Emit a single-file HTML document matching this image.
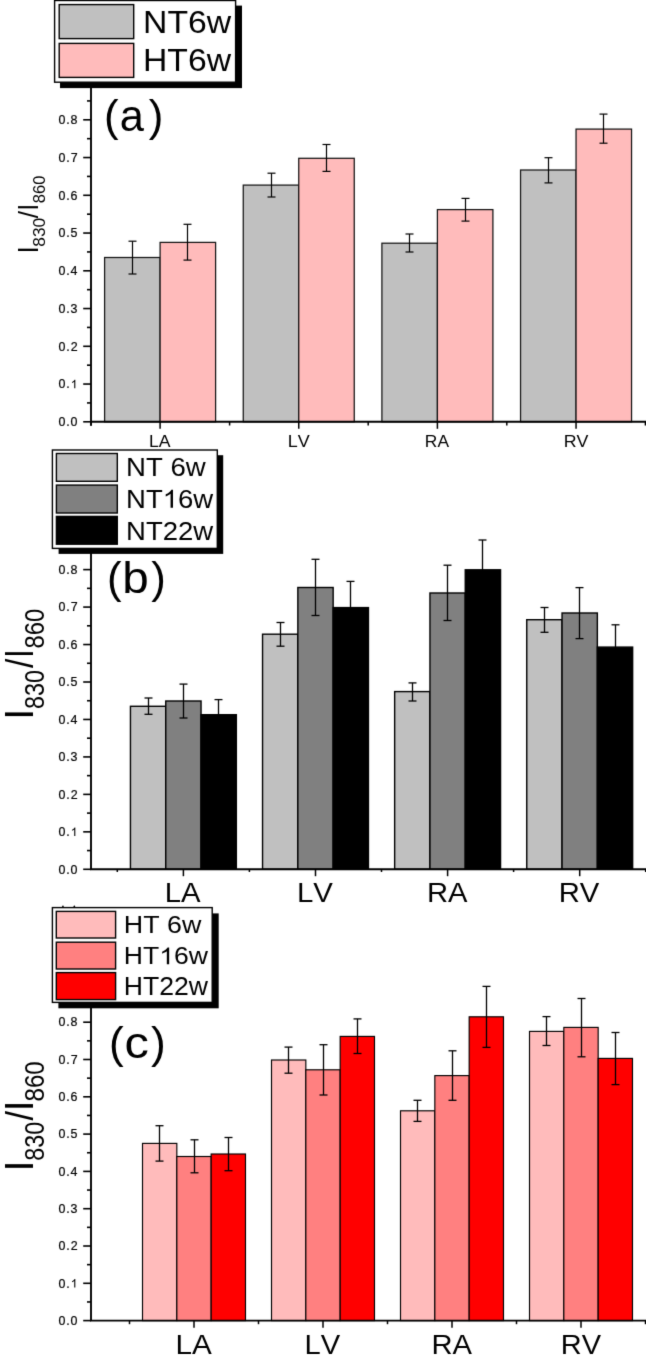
<!DOCTYPE html>
<html><head><meta charset="utf-8"><style>
html,body{margin:0;padding:0;background:#fff;}
svg{display:block;}
#w{will-change:transform;width:646px;height:1363px;overflow:hidden;}
text{font-family:"Liberation Sans",sans-serif;font-kerning:none;}
</style></head><body><div id="w">
<svg width="646" height="1363" viewBox="0 0 646 1363">
<defs><filter id="bl" x="0" y="0" width="646" height="1363" filterUnits="userSpaceOnUse" color-interpolation-filters="sRGB"><feConvolveMatrix order="3" kernelMatrix="0.01134 0.08382 0.01134 0.08382 0.61935 0.08382 0.01134 0.08382 0.01134" edgeMode="duplicate" preserveAlpha="true"/></filter></defs>
<g filter="url(#bl)">
<rect x="0" y="0" width="646" height="1363" fill="#fff"/>
<rect x="104.6" y="257.5" width="55.5" height="164.3" fill="#C0C0C0" stroke="#141414" stroke-width="1.25"/>
<rect x="160.1" y="242.4" width="55.5" height="179.4" fill="#FFBBBB" stroke="#141414" stroke-width="1.25"/>
<line x1="132.5" y1="241.2" x2="132.5" y2="274" stroke="#000" stroke-width="1.2"/>
<line x1="128.5" y1="241.2" x2="136.5" y2="241.2" stroke="#000" stroke-width="1.2"/>
<line x1="128.5" y1="274" x2="136.5" y2="274" stroke="#000" stroke-width="1.2"/>
<line x1="187.5" y1="224.3" x2="187.5" y2="260.1" stroke="#000" stroke-width="1.2"/>
<line x1="183.5" y1="224.3" x2="191.5" y2="224.3" stroke="#000" stroke-width="1.2"/>
<line x1="183.5" y1="260.1" x2="191.5" y2="260.1" stroke="#000" stroke-width="1.2"/>
<rect x="243.25" y="185.1" width="55.5" height="236.7" fill="#C0C0C0" stroke="#141414" stroke-width="1.25"/>
<rect x="298.75" y="158.3" width="55.5" height="263.5" fill="#FFBBBB" stroke="#141414" stroke-width="1.25"/>
<line x1="271.5" y1="173.2" x2="271.5" y2="197" stroke="#000" stroke-width="1.2"/>
<line x1="267.5" y1="173.2" x2="275.5" y2="173.2" stroke="#000" stroke-width="1.2"/>
<line x1="267.5" y1="197" x2="275.5" y2="197" stroke="#000" stroke-width="1.2"/>
<line x1="326.5" y1="144.5" x2="326.5" y2="171.4" stroke="#000" stroke-width="1.2"/>
<line x1="322.5" y1="144.5" x2="330.5" y2="144.5" stroke="#000" stroke-width="1.2"/>
<line x1="322.5" y1="171.4" x2="330.5" y2="171.4" stroke="#000" stroke-width="1.2"/>
<rect x="381.9" y="243.2" width="55.5" height="178.6" fill="#C0C0C0" stroke="#141414" stroke-width="1.25"/>
<rect x="437.4" y="209.6" width="55.5" height="212.2" fill="#FFBBBB" stroke="#141414" stroke-width="1.25"/>
<line x1="409.5" y1="234" x2="409.5" y2="252" stroke="#000" stroke-width="1.2"/>
<line x1="405.5" y1="234" x2="413.5" y2="234" stroke="#000" stroke-width="1.2"/>
<line x1="405.5" y1="252" x2="413.5" y2="252" stroke="#000" stroke-width="1.2"/>
<line x1="465.5" y1="198.4" x2="465.5" y2="221.1" stroke="#000" stroke-width="1.2"/>
<line x1="461.5" y1="198.4" x2="469.5" y2="198.4" stroke="#000" stroke-width="1.2"/>
<line x1="461.5" y1="221.1" x2="469.5" y2="221.1" stroke="#000" stroke-width="1.2"/>
<rect x="520.55" y="170" width="55.5" height="251.8" fill="#C0C0C0" stroke="#141414" stroke-width="1.25"/>
<rect x="576.05" y="129.1" width="55.5" height="292.7" fill="#FFBBBB" stroke="#141414" stroke-width="1.25"/>
<line x1="548.5" y1="157.7" x2="548.5" y2="182.9" stroke="#000" stroke-width="1.2"/>
<line x1="544.5" y1="157.7" x2="552.5" y2="157.7" stroke="#000" stroke-width="1.2"/>
<line x1="544.5" y1="182.9" x2="552.5" y2="182.9" stroke="#000" stroke-width="1.2"/>
<line x1="603.5" y1="114.1" x2="603.5" y2="143.2" stroke="#000" stroke-width="1.2"/>
<line x1="599.5" y1="114.1" x2="607.5" y2="114.1" stroke="#000" stroke-width="1.2"/>
<line x1="599.5" y1="143.2" x2="607.5" y2="143.2" stroke="#000" stroke-width="1.2"/>
<line x1="91" y1="80" x2="91" y2="425.7" stroke="#000" stroke-width="1.9"/>
<line x1="90" y1="421.8" x2="646" y2="421.8" stroke="#000" stroke-width="1.9"/>
<line x1="83.2" y1="421.8" x2="91" y2="421.8" stroke="#000" stroke-width="1.6"/>
<g transform="translate(58.514 426.079)" fill="#000" stroke="#000" stroke-width="0.2"><text font-size="12.429" letter-spacing="0.846">0.0</text></g>
<line x1="87" y1="402.925" x2="91" y2="402.925" stroke="#000" stroke-width="1.6"/>
<line x1="83.2" y1="384.05" x2="91" y2="384.05" stroke="#000" stroke-width="1.6"/>
<g transform="translate(58.514 388.329)" fill="#000" stroke="#000" stroke-width="0.2"><text font-size="12.429" letter-spacing="0.907">0. </text><path transform="translate(12.18 0) scale(0.00607 -0.00607)" d="M763 0H583V1098Q518 1038 412 979T222 890V1057Q373 1125 486 1221T646 1409H763V0Z"/></g>
<line x1="87" y1="365.175" x2="91" y2="365.175" stroke="#000" stroke-width="1.6"/>
<line x1="83.2" y1="346.3" x2="91" y2="346.3" stroke="#000" stroke-width="1.6"/>
<g transform="translate(58.514 350.579)" fill="#000" stroke="#000" stroke-width="0.2"><text font-size="12.429" letter-spacing="0.916">0.2</text></g>
<line x1="87" y1="327.425" x2="91" y2="327.425" stroke="#000" stroke-width="1.6"/>
<line x1="83.2" y1="308.55" x2="91" y2="308.55" stroke="#000" stroke-width="1.6"/>
<g transform="translate(58.514 312.829)" fill="#000" stroke="#000" stroke-width="0.2"><text font-size="12.429" letter-spacing="0.877">0.3</text></g>
<line x1="87" y1="289.675" x2="91" y2="289.675" stroke="#000" stroke-width="1.6"/>
<line x1="83.2" y1="270.8" x2="91" y2="270.8" stroke="#000" stroke-width="1.6"/>
<g transform="translate(58.514 275.079)" fill="#000" stroke="#000" stroke-width="0.2"><text font-size="12.429" letter-spacing="0.786">0.4</text></g>
<line x1="87" y1="251.925" x2="91" y2="251.925" stroke="#000" stroke-width="1.6"/>
<line x1="83.2" y1="233.05" x2="91" y2="233.05" stroke="#000" stroke-width="1.6"/>
<g transform="translate(58.514 237.329)" fill="#000" stroke="#000" stroke-width="0.2"><text font-size="12.429" letter-spacing="0.865">0.5</text></g>
<line x1="87" y1="214.175" x2="91" y2="214.175" stroke="#000" stroke-width="1.6"/>
<line x1="83.2" y1="195.3" x2="91" y2="195.3" stroke="#000" stroke-width="1.6"/>
<g transform="translate(58.514 199.579)" fill="#000" stroke="#000" stroke-width="0.2"><text font-size="12.429" letter-spacing="0.877">0.6</text></g>
<line x1="87" y1="176.425" x2="91" y2="176.425" stroke="#000" stroke-width="1.6"/>
<line x1="83.2" y1="157.55" x2="91" y2="157.55" stroke="#000" stroke-width="1.6"/>
<g transform="translate(58.514 161.829)" fill="#000" stroke="#000" stroke-width="0.2"><text font-size="12.429" letter-spacing="0.916">0.7</text></g>
<line x1="87" y1="138.675" x2="91" y2="138.675" stroke="#000" stroke-width="1.6"/>
<line x1="83.2" y1="119.8" x2="91" y2="119.8" stroke="#000" stroke-width="1.6"/>
<g transform="translate(58.514 124.079)" fill="#000" stroke="#000" stroke-width="0.2"><text font-size="12.429" letter-spacing="0.874">0.8</text></g>
<line x1="87" y1="100.925" x2="91" y2="100.925" stroke="#000" stroke-width="1.6"/>
<line x1="160.1" y1="421.8" x2="160.1" y2="428.8" stroke="#000" stroke-width="1.5"/>
<line x1="298.75" y1="421.8" x2="298.75" y2="428.8" stroke="#000" stroke-width="1.5"/>
<line x1="437.4" y1="421.8" x2="437.4" y2="428.8" stroke="#000" stroke-width="1.5"/>
<line x1="576.05" y1="421.8" x2="576.05" y2="428.8" stroke="#000" stroke-width="1.5"/>
<line x1="91" y1="421.8" x2="91" y2="425.5" stroke="#000" stroke-width="1.5"/>
<line x1="229.6" y1="421.8" x2="229.6" y2="425.5" stroke="#000" stroke-width="1.5"/>
<line x1="368.2" y1="421.8" x2="368.2" y2="425.5" stroke="#000" stroke-width="1.5"/>
<line x1="506.8" y1="421.8" x2="506.8" y2="425.5" stroke="#000" stroke-width="1.5"/>
<line x1="645.4" y1="421.8" x2="645.4" y2="425.5" stroke="#000" stroke-width="1.5"/>
<g transform="translate(149.053 446.8) scale(1.056 1)" fill="#000"><text font-size="16.715">LA</text></g>
<g transform="translate(287.728 446.8) scale(1.074 1)" fill="#000"><text font-size="16.715">LV</text></g>
<g transform="translate(424.873 446.8) scale(1.04 1)" fill="#000"><text font-size="16.715">RA</text></g>
<g transform="translate(563.739 446.8) scale(1.065 1)" fill="#000"><text font-size="16.715">RV</text></g>
<rect x="60" y="5.6" width="182" height="82.5" fill="#000"/>
<rect x="54.6" y="0.5" width="181" height="81.7" fill="#fff" stroke="#000" stroke-width="1.4"/>
<rect x="59.2" y="4.6" width="74.5" height="34" fill="#C0C0C0" stroke="#000" stroke-width="1.4"/>
<rect x="59.2" y="43.4" width="74.5" height="34" fill="#FFBBBB" stroke="#000" stroke-width="1.4"/>
<g transform="translate(143.033 32.887) scale(1.052 1)" fill="#000"><text font-size="32.062">NT6w</text></g>
<g transform="translate(143.033 71.086) scale(1.047 1)" fill="#000"><text font-size="32.203">HT6w</text></g>
<text transform="translate(119.756 131.011) scale(0.989 1)" font-size="43.901">a</text>
<text x="104.078" y="131.011" font-size="43.901">(</text>
<text x="148.703" y="131.011" font-size="43.901">)</text>
<text transform="translate(37.9 253.176) rotate(-90) scale(0.857 1)" font-size="28.78" fill="#000">I</text>
<text transform="translate(44.632 246.654) rotate(-90) scale(1.006 1)" font-size="17.231" fill="#000">830</text>
<text transform="translate(38.222 218.2) rotate(-90) scale(0.911 1)" font-size="28.46" fill="#000">/</text>
<text transform="translate(37.9 210.377) rotate(-90) scale(0.82 1)" font-size="28.78" fill="#000">I</text>
<text transform="translate(44.632 203.221) rotate(-90) scale(0.962 1)" font-size="17.231" fill="#000">860</text>
<rect x="130.45" y="706.3" width="35.3" height="163" fill="#C0C0C0" stroke="#000" stroke-width="1.4"/>
<rect x="165.75" y="701" width="35.3" height="168.3" fill="#808080" stroke="#000" stroke-width="1.4"/>
<rect x="201.05" y="714.7" width="35.3" height="154.6" fill="#000000" stroke="#000" stroke-width="1.4"/>
<line x1="148.5" y1="698" x2="148.5" y2="714.3" stroke="#000" stroke-width="1.3"/>
<line x1="144.5" y1="698" x2="152.5" y2="698" stroke="#000" stroke-width="1.3"/>
<line x1="144.5" y1="714.3" x2="152.5" y2="714.3" stroke="#000" stroke-width="1.3"/>
<line x1="183.5" y1="684.1" x2="183.5" y2="718" stroke="#000" stroke-width="1.3"/>
<line x1="179.5" y1="684.1" x2="187.5" y2="684.1" stroke="#000" stroke-width="1.3"/>
<line x1="179.5" y1="718" x2="187.5" y2="718" stroke="#000" stroke-width="1.3"/>
<line x1="218.5" y1="699.6" x2="218.5" y2="729.8" stroke="#000" stroke-width="1.3"/>
<line x1="214.5" y1="699.6" x2="222.5" y2="699.6" stroke="#000" stroke-width="1.3"/>
<line x1="214.5" y1="729.8" x2="222.5" y2="729.8" stroke="#000" stroke-width="1.3"/>
<rect x="262.55" y="634.2" width="35.3" height="235.1" fill="#C0C0C0" stroke="#000" stroke-width="1.4"/>
<rect x="297.85" y="587.5" width="35.3" height="281.8" fill="#808080" stroke="#000" stroke-width="1.4"/>
<rect x="333.15" y="607.6" width="35.3" height="261.7" fill="#000000" stroke="#000" stroke-width="1.4"/>
<line x1="280.5" y1="622.5" x2="280.5" y2="646.2" stroke="#000" stroke-width="1.3"/>
<line x1="276.5" y1="622.5" x2="284.5" y2="622.5" stroke="#000" stroke-width="1.3"/>
<line x1="276.5" y1="646.2" x2="284.5" y2="646.2" stroke="#000" stroke-width="1.3"/>
<line x1="315.5" y1="559.3" x2="315.5" y2="615.5" stroke="#000" stroke-width="1.3"/>
<line x1="311.5" y1="559.3" x2="319.5" y2="559.3" stroke="#000" stroke-width="1.3"/>
<line x1="311.5" y1="615.5" x2="319.5" y2="615.5" stroke="#000" stroke-width="1.3"/>
<line x1="350.5" y1="581.4" x2="350.5" y2="633.8" stroke="#000" stroke-width="1.3"/>
<line x1="346.5" y1="581.4" x2="354.5" y2="581.4" stroke="#000" stroke-width="1.3"/>
<line x1="346.5" y1="633.8" x2="354.5" y2="633.8" stroke="#000" stroke-width="1.3"/>
<rect x="394.65" y="691.6" width="35.3" height="177.7" fill="#C0C0C0" stroke="#000" stroke-width="1.4"/>
<rect x="429.95" y="593" width="35.3" height="276.3" fill="#808080" stroke="#000" stroke-width="1.4"/>
<rect x="465.25" y="569.8" width="35.3" height="299.5" fill="#000000" stroke="#000" stroke-width="1.4"/>
<line x1="412.5" y1="682.9" x2="412.5" y2="701" stroke="#000" stroke-width="1.3"/>
<line x1="408.5" y1="682.9" x2="416.5" y2="682.9" stroke="#000" stroke-width="1.3"/>
<line x1="408.5" y1="701" x2="416.5" y2="701" stroke="#000" stroke-width="1.3"/>
<line x1="447.5" y1="565.2" x2="447.5" y2="620.5" stroke="#000" stroke-width="1.3"/>
<line x1="443.5" y1="565.2" x2="451.5" y2="565.2" stroke="#000" stroke-width="1.3"/>
<line x1="443.5" y1="620.5" x2="451.5" y2="620.5" stroke="#000" stroke-width="1.3"/>
<line x1="482.5" y1="540" x2="482.5" y2="599.6" stroke="#000" stroke-width="1.3"/>
<line x1="478.5" y1="540" x2="486.5" y2="540" stroke="#000" stroke-width="1.3"/>
<line x1="478.5" y1="599.6" x2="486.5" y2="599.6" stroke="#000" stroke-width="1.3"/>
<rect x="526.75" y="619.7" width="35.3" height="249.6" fill="#C0C0C0" stroke="#000" stroke-width="1.4"/>
<rect x="562.05" y="613" width="35.3" height="256.3" fill="#808080" stroke="#000" stroke-width="1.4"/>
<rect x="597.35" y="647.1" width="35.3" height="222.2" fill="#000000" stroke="#000" stroke-width="1.4"/>
<line x1="544.5" y1="607.5" x2="544.5" y2="632.3" stroke="#000" stroke-width="1.3"/>
<line x1="540.5" y1="607.5" x2="548.5" y2="607.5" stroke="#000" stroke-width="1.3"/>
<line x1="540.5" y1="632.3" x2="548.5" y2="632.3" stroke="#000" stroke-width="1.3"/>
<line x1="579.5" y1="587.6" x2="579.5" y2="638.6" stroke="#000" stroke-width="1.3"/>
<line x1="575.5" y1="587.6" x2="583.5" y2="587.6" stroke="#000" stroke-width="1.3"/>
<line x1="575.5" y1="638.6" x2="583.5" y2="638.6" stroke="#000" stroke-width="1.3"/>
<line x1="615.5" y1="624.8" x2="615.5" y2="669.4" stroke="#000" stroke-width="1.3"/>
<line x1="611.5" y1="624.8" x2="619.5" y2="624.8" stroke="#000" stroke-width="1.3"/>
<line x1="611.5" y1="669.4" x2="619.5" y2="669.4" stroke="#000" stroke-width="1.3"/>
<line x1="91" y1="545" x2="91" y2="869.3" stroke="#000" stroke-width="1.9"/>
<line x1="90" y1="869.3" x2="646" y2="869.3" stroke="#000" stroke-width="1.9"/>
<line x1="83.2" y1="869.3" x2="91" y2="869.3" stroke="#000" stroke-width="1.6"/>
<g transform="translate(58.514 873.579)" fill="#000" stroke="#000" stroke-width="0.2"><text font-size="12.429" letter-spacing="0.846">0.0</text></g>
<line x1="87" y1="850.57" x2="91" y2="850.57" stroke="#000" stroke-width="1.6"/>
<line x1="83.2" y1="831.84" x2="91" y2="831.84" stroke="#000" stroke-width="1.6"/>
<g transform="translate(58.514 836.119)" fill="#000" stroke="#000" stroke-width="0.2"><text font-size="12.429" letter-spacing="0.907">0. </text><path transform="translate(12.18 0) scale(0.00607 -0.00607)" d="M763 0H583V1098Q518 1038 412 979T222 890V1057Q373 1125 486 1221T646 1409H763V0Z"/></g>
<line x1="87" y1="813.11" x2="91" y2="813.11" stroke="#000" stroke-width="1.6"/>
<line x1="83.2" y1="794.38" x2="91" y2="794.38" stroke="#000" stroke-width="1.6"/>
<g transform="translate(58.514 798.659)" fill="#000" stroke="#000" stroke-width="0.2"><text font-size="12.429" letter-spacing="0.916">0.2</text></g>
<line x1="87" y1="775.65" x2="91" y2="775.65" stroke="#000" stroke-width="1.6"/>
<line x1="83.2" y1="756.92" x2="91" y2="756.92" stroke="#000" stroke-width="1.6"/>
<g transform="translate(58.514 761.199)" fill="#000" stroke="#000" stroke-width="0.2"><text font-size="12.429" letter-spacing="0.877">0.3</text></g>
<line x1="87" y1="738.19" x2="91" y2="738.19" stroke="#000" stroke-width="1.6"/>
<line x1="83.2" y1="719.46" x2="91" y2="719.46" stroke="#000" stroke-width="1.6"/>
<g transform="translate(58.514 723.739)" fill="#000" stroke="#000" stroke-width="0.2"><text font-size="12.429" letter-spacing="0.786">0.4</text></g>
<line x1="87" y1="700.73" x2="91" y2="700.73" stroke="#000" stroke-width="1.6"/>
<line x1="83.2" y1="682" x2="91" y2="682" stroke="#000" stroke-width="1.6"/>
<g transform="translate(58.514 686.279)" fill="#000" stroke="#000" stroke-width="0.2"><text font-size="12.429" letter-spacing="0.865">0.5</text></g>
<line x1="87" y1="663.27" x2="91" y2="663.27" stroke="#000" stroke-width="1.6"/>
<line x1="83.2" y1="644.54" x2="91" y2="644.54" stroke="#000" stroke-width="1.6"/>
<g transform="translate(58.514 648.819)" fill="#000" stroke="#000" stroke-width="0.2"><text font-size="12.429" letter-spacing="0.877">0.6</text></g>
<line x1="87" y1="625.81" x2="91" y2="625.81" stroke="#000" stroke-width="1.6"/>
<line x1="83.2" y1="607.08" x2="91" y2="607.08" stroke="#000" stroke-width="1.6"/>
<g transform="translate(58.514 611.359)" fill="#000" stroke="#000" stroke-width="0.2"><text font-size="12.429" letter-spacing="0.916">0.7</text></g>
<line x1="87" y1="588.35" x2="91" y2="588.35" stroke="#000" stroke-width="1.6"/>
<line x1="83.2" y1="569.62" x2="91" y2="569.62" stroke="#000" stroke-width="1.6"/>
<g transform="translate(58.514 573.899)" fill="#000" stroke="#000" stroke-width="0.2"><text font-size="12.429" letter-spacing="0.874">0.8</text></g>
<line x1="87" y1="550.89" x2="91" y2="550.89" stroke="#000" stroke-width="1.6"/>
<line x1="183.4" y1="869.3" x2="183.4" y2="876.2" stroke="#000" stroke-width="1.5"/>
<line x1="315.5" y1="869.3" x2="315.5" y2="876.2" stroke="#000" stroke-width="1.5"/>
<line x1="447.6" y1="869.3" x2="447.6" y2="876.2" stroke="#000" stroke-width="1.5"/>
<line x1="579.7" y1="869.3" x2="579.7" y2="876.2" stroke="#000" stroke-width="1.5"/>
<line x1="117.3" y1="869.3" x2="117.3" y2="872" stroke="#000" stroke-width="1.5"/>
<line x1="249.4" y1="869.3" x2="249.4" y2="872" stroke="#000" stroke-width="1.5"/>
<line x1="381.5" y1="869.3" x2="381.5" y2="872" stroke="#000" stroke-width="1.5"/>
<line x1="513.6" y1="869.3" x2="513.6" y2="872" stroke="#000" stroke-width="1.5"/>
<line x1="645.7" y1="869.3" x2="645.7" y2="872" stroke="#000" stroke-width="1.5"/>
<g transform="translate(164.795 902.1) scale(1.067 1)" fill="#000"><text font-size="27.471">LA</text></g>
<g transform="translate(296.89 902.1) scale(1.07 1)" fill="#000"><text font-size="27.471">LV</text></g>
<g transform="translate(426.905 902.1) scale(1.063 1)" fill="#000"><text font-size="27.471">RA</text></g>
<g transform="translate(558.701 902.1) scale(1.065 1)" fill="#000"><text font-size="27.471">RV</text></g>
<rect x="58.6" y="455.2" width="164.6" height="98.7" fill="#000"/>
<rect x="52.4" y="450" width="164.9" height="98.4" fill="#fff" stroke="#000" stroke-width="1.4"/>
<rect x="56.4" y="453.5" width="60.9" height="27.8" fill="#C0C0C0" stroke="#000" stroke-width="1.4"/>
<rect x="56.4" y="485.1" width="60.9" height="27.9" fill="#808080" stroke="#000" stroke-width="1.4"/>
<rect x="56.4" y="516.4" width="60.9" height="27.8" fill="#000000" stroke="#000" stroke-width="1.4"/>
<g transform="translate(126.034 476.343) scale(1.051 1)" fill="#000"><text font-size="26.271">NT 6w</text></g>
<g transform="translate(126.042 507.746) scale(1.059 1)" fill="#000"><text font-size="25.988">NT 6w</text><path transform="translate(34.643 0) scale(0.01269 -0.01269)" d="M763 0H583V1098Q518 1038 412 979T222 890V1057Q373 1125 486 1221T646 1409H763V0Z"/></g>
<g transform="translate(126.042 540) scale(1.062 1)" fill="#000"><text font-size="25.922">NT22w</text></g>
<text transform="translate(122.233 592.933) scale(1.087 1)" font-size="43.794">b</text>
<text x="106.884" y="592.933" font-size="43.794">(</text>
<text x="151.232" y="592.933" font-size="43.794">)</text>
<text transform="translate(33 719.661) rotate(-90) scale(0.985 1)" font-size="40.262" fill="#000">I</text>
<text transform="translate(44.035 708.914) rotate(-90) scale(0.86 1)" font-size="27.118" fill="#000">830</text>
<text transform="translate(33.414 668) rotate(-90) scale(0.848 1)" font-size="39.489" fill="#000">/</text>
<text transform="translate(33 657.671) rotate(-90) scale(0.746 1)" font-size="40.262" fill="#000">I</text>
<text transform="translate(44.035 648.533) rotate(-90) scale(0.877 1)" font-size="27.118" fill="#000">860</text>
<rect x="142.505" y="1143.4" width="34.33" height="177.2" fill="#FFBBBB" stroke="#000" stroke-width="1.15"/>
<rect x="176.835" y="1156.5" width="34.33" height="164.1" fill="#FF8080" stroke="#000" stroke-width="1.15"/>
<rect x="211.165" y="1154" width="34.33" height="166.6" fill="#FF0000" stroke="#000" stroke-width="1.15"/>
<line x1="159.5" y1="1125.7" x2="159.5" y2="1161.1" stroke="#000" stroke-width="1.3"/>
<line x1="155.5" y1="1125.7" x2="163.5" y2="1125.7" stroke="#000" stroke-width="1.3"/>
<line x1="155.5" y1="1161.1" x2="163.5" y2="1161.1" stroke="#000" stroke-width="1.3"/>
<line x1="194.5" y1="1139.8" x2="194.5" y2="1172.8" stroke="#000" stroke-width="1.3"/>
<line x1="190.5" y1="1139.8" x2="198.5" y2="1139.8" stroke="#000" stroke-width="1.3"/>
<line x1="190.5" y1="1172.8" x2="198.5" y2="1172.8" stroke="#000" stroke-width="1.3"/>
<line x1="228.5" y1="1137.5" x2="228.5" y2="1170.7" stroke="#000" stroke-width="1.3"/>
<line x1="224.5" y1="1137.5" x2="232.5" y2="1137.5" stroke="#000" stroke-width="1.3"/>
<line x1="224.5" y1="1170.7" x2="232.5" y2="1170.7" stroke="#000" stroke-width="1.3"/>
<rect x="271.505" y="1060" width="34.33" height="260.6" fill="#FFBBBB" stroke="#000" stroke-width="1.15"/>
<rect x="305.835" y="1069.8" width="34.33" height="250.8" fill="#FF8080" stroke="#000" stroke-width="1.15"/>
<rect x="340.165" y="1036.4" width="34.33" height="284.2" fill="#FF0000" stroke="#000" stroke-width="1.15"/>
<line x1="288.5" y1="1047.1" x2="288.5" y2="1073.2" stroke="#000" stroke-width="1.3"/>
<line x1="284.5" y1="1047.1" x2="292.5" y2="1047.1" stroke="#000" stroke-width="1.3"/>
<line x1="284.5" y1="1073.2" x2="292.5" y2="1073.2" stroke="#000" stroke-width="1.3"/>
<line x1="323.5" y1="1044.7" x2="323.5" y2="1095" stroke="#000" stroke-width="1.3"/>
<line x1="319.5" y1="1044.7" x2="327.5" y2="1044.7" stroke="#000" stroke-width="1.3"/>
<line x1="319.5" y1="1095" x2="327.5" y2="1095" stroke="#000" stroke-width="1.3"/>
<line x1="357.5" y1="1018.9" x2="357.5" y2="1053.5" stroke="#000" stroke-width="1.3"/>
<line x1="353.5" y1="1018.9" x2="361.5" y2="1018.9" stroke="#000" stroke-width="1.3"/>
<line x1="353.5" y1="1053.5" x2="361.5" y2="1053.5" stroke="#000" stroke-width="1.3"/>
<rect x="400.505" y="1110.8" width="34.33" height="209.8" fill="#FFBBBB" stroke="#000" stroke-width="1.15"/>
<rect x="434.835" y="1075.6" width="34.33" height="245" fill="#FF8080" stroke="#000" stroke-width="1.15"/>
<rect x="469.165" y="1016.8" width="34.33" height="303.8" fill="#FF0000" stroke="#000" stroke-width="1.15"/>
<line x1="417.5" y1="1100.3" x2="417.5" y2="1121.4" stroke="#000" stroke-width="1.3"/>
<line x1="413.5" y1="1100.3" x2="421.5" y2="1100.3" stroke="#000" stroke-width="1.3"/>
<line x1="413.5" y1="1121.4" x2="421.5" y2="1121.4" stroke="#000" stroke-width="1.3"/>
<line x1="452.5" y1="1050.8" x2="452.5" y2="1100.3" stroke="#000" stroke-width="1.3"/>
<line x1="448.5" y1="1050.8" x2="456.5" y2="1050.8" stroke="#000" stroke-width="1.3"/>
<line x1="448.5" y1="1100.3" x2="456.5" y2="1100.3" stroke="#000" stroke-width="1.3"/>
<line x1="486.5" y1="986.4" x2="486.5" y2="1047.4" stroke="#000" stroke-width="1.3"/>
<line x1="482.5" y1="986.4" x2="490.5" y2="986.4" stroke="#000" stroke-width="1.3"/>
<line x1="482.5" y1="1047.4" x2="490.5" y2="1047.4" stroke="#000" stroke-width="1.3"/>
<rect x="529.505" y="1031.4" width="34.33" height="289.2" fill="#FFBBBB" stroke="#000" stroke-width="1.15"/>
<rect x="563.835" y="1027.4" width="34.33" height="293.2" fill="#FF8080" stroke="#000" stroke-width="1.15"/>
<rect x="598.165" y="1058.4" width="34.33" height="262.2" fill="#FF0000" stroke="#000" stroke-width="1.15"/>
<line x1="546.5" y1="1016.6" x2="546.5" y2="1045.5" stroke="#000" stroke-width="1.3"/>
<line x1="542.5" y1="1016.6" x2="550.5" y2="1016.6" stroke="#000" stroke-width="1.3"/>
<line x1="542.5" y1="1045.5" x2="550.5" y2="1045.5" stroke="#000" stroke-width="1.3"/>
<line x1="581.5" y1="998.5" x2="581.5" y2="1056.8" stroke="#000" stroke-width="1.3"/>
<line x1="577.5" y1="998.5" x2="585.5" y2="998.5" stroke="#000" stroke-width="1.3"/>
<line x1="577.5" y1="1056.8" x2="585.5" y2="1056.8" stroke="#000" stroke-width="1.3"/>
<line x1="615.5" y1="1032.5" x2="615.5" y2="1084.6" stroke="#000" stroke-width="1.3"/>
<line x1="611.5" y1="1032.5" x2="619.5" y2="1032.5" stroke="#000" stroke-width="1.3"/>
<line x1="611.5" y1="1084.6" x2="619.5" y2="1084.6" stroke="#000" stroke-width="1.3"/>
<line x1="91" y1="1000" x2="91" y2="1320.6" stroke="#000" stroke-width="1.9"/>
<line x1="90" y1="1320.6" x2="646" y2="1320.6" stroke="#000" stroke-width="1.9"/>
<line x1="83.2" y1="1320.6" x2="91" y2="1320.6" stroke="#000" stroke-width="1.6"/>
<g transform="translate(58.514 1324.879)" fill="#000" stroke="#000" stroke-width="0.2"><text font-size="12.429" letter-spacing="0.846">0.0</text></g>
<line x1="87" y1="1301.95" x2="91" y2="1301.95" stroke="#000" stroke-width="1.6"/>
<line x1="83.2" y1="1283.3" x2="91" y2="1283.3" stroke="#000" stroke-width="1.6"/>
<g transform="translate(58.514 1287.579)" fill="#000" stroke="#000" stroke-width="0.2"><text font-size="12.429" letter-spacing="0.907">0. </text><path transform="translate(12.18 0) scale(0.00607 -0.00607)" d="M763 0H583V1098Q518 1038 412 979T222 890V1057Q373 1125 486 1221T646 1409H763V0Z"/></g>
<line x1="87" y1="1264.65" x2="91" y2="1264.65" stroke="#000" stroke-width="1.6"/>
<line x1="83.2" y1="1246" x2="91" y2="1246" stroke="#000" stroke-width="1.6"/>
<g transform="translate(58.514 1250.279)" fill="#000" stroke="#000" stroke-width="0.2"><text font-size="12.429" letter-spacing="0.916">0.2</text></g>
<line x1="87" y1="1227.35" x2="91" y2="1227.35" stroke="#000" stroke-width="1.6"/>
<line x1="83.2" y1="1208.7" x2="91" y2="1208.7" stroke="#000" stroke-width="1.6"/>
<g transform="translate(58.514 1212.979)" fill="#000" stroke="#000" stroke-width="0.2"><text font-size="12.429" letter-spacing="0.877">0.3</text></g>
<line x1="87" y1="1190.05" x2="91" y2="1190.05" stroke="#000" stroke-width="1.6"/>
<line x1="83.2" y1="1171.4" x2="91" y2="1171.4" stroke="#000" stroke-width="1.6"/>
<g transform="translate(58.514 1175.679)" fill="#000" stroke="#000" stroke-width="0.2"><text font-size="12.429" letter-spacing="0.786">0.4</text></g>
<line x1="87" y1="1152.75" x2="91" y2="1152.75" stroke="#000" stroke-width="1.6"/>
<line x1="83.2" y1="1134.1" x2="91" y2="1134.1" stroke="#000" stroke-width="1.6"/>
<g transform="translate(58.514 1138.379)" fill="#000" stroke="#000" stroke-width="0.2"><text font-size="12.429" letter-spacing="0.865">0.5</text></g>
<line x1="87" y1="1115.45" x2="91" y2="1115.45" stroke="#000" stroke-width="1.6"/>
<line x1="83.2" y1="1096.8" x2="91" y2="1096.8" stroke="#000" stroke-width="1.6"/>
<g transform="translate(58.514 1101.079)" fill="#000" stroke="#000" stroke-width="0.2"><text font-size="12.429" letter-spacing="0.877">0.6</text></g>
<line x1="87" y1="1078.15" x2="91" y2="1078.15" stroke="#000" stroke-width="1.6"/>
<line x1="83.2" y1="1059.5" x2="91" y2="1059.5" stroke="#000" stroke-width="1.6"/>
<g transform="translate(58.514 1063.779)" fill="#000" stroke="#000" stroke-width="0.2"><text font-size="12.429" letter-spacing="0.916">0.7</text></g>
<line x1="87" y1="1040.85" x2="91" y2="1040.85" stroke="#000" stroke-width="1.6"/>
<line x1="83.2" y1="1022.2" x2="91" y2="1022.2" stroke="#000" stroke-width="1.6"/>
<g transform="translate(58.514 1026.479)" fill="#000" stroke="#000" stroke-width="0.2"><text font-size="12.429" letter-spacing="0.874">0.8</text></g>
<line x1="87" y1="1003.55" x2="91" y2="1003.55" stroke="#000" stroke-width="1.6"/>
<line x1="194" y1="1320.6" x2="194" y2="1327.7" stroke="#000" stroke-width="1.5"/>
<line x1="323" y1="1320.6" x2="323" y2="1327.7" stroke="#000" stroke-width="1.5"/>
<line x1="452" y1="1320.6" x2="452" y2="1327.7" stroke="#000" stroke-width="1.5"/>
<line x1="581" y1="1320.6" x2="581" y2="1327.7" stroke="#000" stroke-width="1.5"/>
<line x1="129.5" y1="1320.6" x2="129.5" y2="1324.2" stroke="#000" stroke-width="1.5"/>
<line x1="258.5" y1="1320.6" x2="258.5" y2="1324.2" stroke="#000" stroke-width="1.5"/>
<line x1="387.5" y1="1320.6" x2="387.5" y2="1324.2" stroke="#000" stroke-width="1.5"/>
<line x1="516.5" y1="1320.6" x2="516.5" y2="1324.2" stroke="#000" stroke-width="1.5"/>
<line x1="645.5" y1="1320.6" x2="645.5" y2="1324.2" stroke="#000" stroke-width="1.5"/>
<g transform="translate(175.566 1354.3) scale(1.058 1)" fill="#000"><text font-size="28.053">LA</text></g>
<g transform="translate(304.611 1354.3) scale(1.038 1)" fill="#000"><text font-size="28.053">LV</text></g>
<g transform="translate(431.505 1354.3) scale(1.041 1)" fill="#000"><text font-size="28.053">RA</text></g>
<g transform="translate(560.72 1354.3) scale(1.034 1)" fill="#000"><text font-size="28.053">RV</text></g>
<rect x="58.4" y="913.4" width="160.3" height="94.9" fill="#000"/>
<rect x="52.4" y="907.6" width="159.8" height="94.8" fill="#fff" stroke="#000" stroke-width="1.4"/>
<path d="M61.6 907.6 L62.6 905.4 L63.3 905.4 L64.1 907.6 Z" fill="#000"/>
<path d="M73 907.6 L74 905.4 L74.7 905.4 L75.5 907.6 Z" fill="#000"/>
<rect x="56.3" y="911.4" width="59.3" height="26.6" fill="#FFBBBB" stroke="#000" stroke-width="1.4"/>
<rect x="56.3" y="942.2" width="59.3" height="26.8" fill="#FF8080" stroke="#000" stroke-width="1.4"/>
<rect x="56.3" y="972.6" width="59.3" height="27" fill="#FF0000" stroke="#000" stroke-width="1.4"/>
<g transform="translate(123.799 933.464) scale(1.111 1)" fill="#000"><text font-size="24.152">HT 6w</text></g>
<g transform="translate(123.819 964.261) scale(1.088 1)" fill="#000"><text font-size="24.435">HT 6w</text><path transform="translate(32.572 0) scale(0.01193 -0.01193)" d="M763 0H583V1098Q518 1038 412 979T222 890V1057Q373 1125 486 1221T646 1409H763V0Z"/></g>
<g transform="translate(123.819 995) scale(1.067 1)" fill="#000"><text font-size="24.92">HT22w</text></g>
<text transform="translate(124.531 1058.444) scale(1.101 1)" font-size="44.223">c</text>
<text x="108.958" y="1058.444" font-size="44.223">(</text>
<text x="150.916" y="1058.444" font-size="44.223">)</text>
<text transform="translate(33 1171.561) rotate(-90) scale(0.985 1)" font-size="40.262" fill="#000">I</text>
<text transform="translate(44.035 1160.711) rotate(-90) scale(0.858 1)" font-size="27.118" fill="#000">830</text>
<text transform="translate(33.414 1120.5) rotate(-90) scale(0.866 1)" font-size="39.489" fill="#000">/</text>
<text transform="translate(33 1111.162) rotate(-90) scale(0.959 1)" font-size="40.262" fill="#000">I</text>
<text transform="translate(44.035 1101.549) rotate(-90) scale(0.891 1)" font-size="27.118" fill="#000">860</text>
</g>
</svg></div>
</body></html>
